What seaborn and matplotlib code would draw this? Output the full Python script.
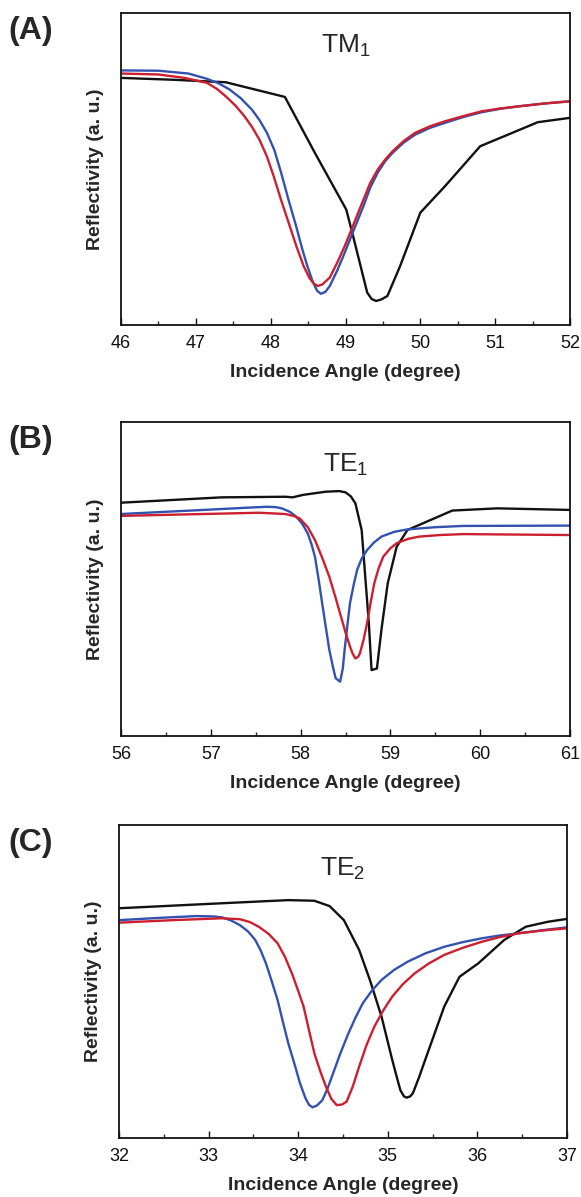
# Reflectivity curves (TM1, TE1, TE2) - three stacked panels

import numpy as np
import pandas as pd
import matplotlib
matplotlib.use("Agg")
import matplotlib.pyplot as plt
from matplotlib.ticker import MultipleLocator
import seaborn as sns

# ---- Panel A: TM1 ----
a_black_x = [46.0, 46.7, 47.4, 48.19, 48.59, 49.01, 49.09, 49.19, 49.29, 49.35, 49.41, 49.48, 49.56, 49.73, 50.0, 50.33, 50.8, 51.57, 52.0]
a_black_y = [0.792, 0.786, 0.778, 0.731, 0.552, 0.370, 0.296, 0.200, 0.104, 0.083, 0.077, 0.082, 0.093, 0.189, 0.360, 0.445, 0.573, 0.650, 0.664]
a_blue_x = [46.0, 46.5, 46.9, 47.15, 47.3, 47.45, 47.6, 47.75, 47.85, 47.95, 48.05, 48.14, 48.24, 48.34, 48.42, 48.49, 48.56, 48.62, 48.67, 48.73, 48.79, 48.89, 48.99, 49.12, 49.24, 49.33, 49.43, 49.53, 49.63, 49.78, 49.93, 50.13, 50.33, 50.58, 50.82, 51.07, 51.32, 51.66, 52.0]
a_blue_y = [0.816, 0.815, 0.806, 0.789, 0.775, 0.755, 0.727, 0.690, 0.657, 0.616, 0.560, 0.488, 0.400, 0.317, 0.245, 0.189, 0.140, 0.110, 0.100, 0.106, 0.125, 0.175, 0.232, 0.310, 0.381, 0.440, 0.488, 0.525, 0.552, 0.585, 0.610, 0.632, 0.648, 0.667, 0.682, 0.693, 0.701, 0.710, 0.717]
a_red_x = [46.0, 46.5, 46.85, 47.15, 47.28, 47.4, 47.53, 47.65, 47.75, 47.85, 47.95, 48.04, 48.14, 48.24, 48.34, 48.44, 48.52, 48.58, 48.63, 48.69, 48.79, 48.89, 48.99, 49.12, 49.24, 49.33, 49.43, 49.53, 49.63, 49.78, 49.93, 50.13, 50.33, 50.58, 50.82, 51.07, 51.32, 51.66, 52.0]
a_red_y = [0.806, 0.803, 0.792, 0.776, 0.757, 0.733, 0.703, 0.669, 0.635, 0.594, 0.540, 0.477, 0.400, 0.328, 0.255, 0.189, 0.150, 0.132, 0.125, 0.130, 0.152, 0.200, 0.253, 0.330, 0.402, 0.455, 0.498, 0.530, 0.557, 0.590, 0.616, 0.637, 0.653, 0.670, 0.685, 0.694, 0.701, 0.710, 0.717]

# ---- Panel B: TE1 ----
b_black_x = [56.0, 57.12, 57.83, 57.91, 58.03, 58.28, 58.43, 58.5, 58.56, 58.61, 58.68, 58.72, 58.76, 58.79, 58.85, 58.9, 58.97, 59.07, 59.19, 59.69, 60.19, 61.0]
b_black_y = [0.743, 0.760, 0.762, 0.760, 0.768, 0.778, 0.780, 0.776, 0.763, 0.741, 0.656, 0.507, 0.359, 0.210, 0.215, 0.338, 0.486, 0.603, 0.656, 0.718, 0.725, 0.720]
b_blue_x = [56.0, 56.92, 57.4, 57.62, 57.72, 57.79, 57.88, 57.95, 58.02, 58.08, 58.12, 58.16, 58.2, 58.24, 58.28, 58.32, 58.36, 58.39, 58.44, 58.47, 58.49, 58.52, 58.55, 58.59, 58.63, 58.68, 58.74, 58.82, 58.9, 59.04, 59.19, 59.5, 59.81, 61.0]
b_blue_y = [0.707, 0.720, 0.727, 0.730, 0.729, 0.725, 0.714, 0.699, 0.675, 0.645, 0.612, 0.571, 0.500, 0.423, 0.348, 0.274, 0.220, 0.184, 0.173, 0.215, 0.274, 0.350, 0.423, 0.480, 0.529, 0.565, 0.592, 0.617, 0.635, 0.650, 0.658, 0.665, 0.669, 0.670]
b_red_x = [56.0, 56.92, 57.54, 57.83, 57.92, 57.99, 58.08, 58.16, 58.24, 58.32, 58.39, 58.45, 58.5, 58.55, 58.58, 58.61, 58.64, 58.66, 58.7, 58.74, 58.78, 58.82, 58.87, 58.92, 59.0, 59.07, 59.2, 59.32, 59.55, 59.81, 61.0]
b_red_y = [0.701, 0.707, 0.711, 0.707, 0.701, 0.693, 0.665, 0.624, 0.568, 0.507, 0.440, 0.380, 0.330, 0.285, 0.262, 0.247, 0.252, 0.263, 0.305, 0.359, 0.425, 0.486, 0.535, 0.571, 0.598, 0.614, 0.628, 0.635, 0.640, 0.643, 0.640]

# ---- Panel C: TE2 ----
c_black_x = [32.0, 33.15, 33.89, 34.18, 34.35, 34.51, 34.68, 34.8, 34.93, 35.05, 35.1, 35.14, 35.18, 35.21, 35.25, 35.28, 35.35, 35.43, 35.63, 35.8, 36.01, 36.3, 36.54, 36.79, 37.0]
c_black_y = [0.734, 0.750, 0.760, 0.758, 0.741, 0.696, 0.601, 0.505, 0.388, 0.249, 0.195, 0.153, 0.133, 0.129, 0.133, 0.143, 0.195, 0.260, 0.420, 0.515, 0.558, 0.633, 0.675, 0.691, 0.700]
c_blue_x = [32.0, 32.5, 32.86, 33.05, 33.15, 33.25, 33.35, 33.44, 33.52, 33.58, 33.64, 33.7, 33.77, 33.83, 33.89, 33.96, 34.02, 34.08, 34.12, 34.16, 34.21, 34.27, 34.33, 34.39, 34.47, 34.56, 34.64, 34.72, 34.82, 34.93, 35.07, 35.22, 35.42, 35.63, 35.84, 36.05, 36.25, 36.46, 36.73, 37.0]
c_blue_y = [0.696, 0.704, 0.709, 0.708, 0.705, 0.695, 0.680, 0.660, 0.633, 0.600, 0.558, 0.505, 0.441, 0.370, 0.302, 0.235, 0.175, 0.128, 0.106, 0.098, 0.104, 0.121, 0.160, 0.207, 0.270, 0.334, 0.385, 0.430, 0.470, 0.505, 0.537, 0.563, 0.590, 0.611, 0.626, 0.638, 0.647, 0.654, 0.664, 0.673]
c_red_x = [32.0, 32.6, 33.15, 33.35, 33.46, 33.56, 33.67, 33.77, 33.85, 33.93, 34.0, 34.06, 34.12, 34.18, 34.25, 34.31, 34.37, 34.43, 34.49, 34.54, 34.61, 34.68, 34.76, 34.85, 34.95, 35.05, 35.17, 35.3, 35.46, 35.63, 35.84, 36.05, 36.25, 36.46, 36.73, 37.0]
c_red_y = [0.688, 0.696, 0.702, 0.699, 0.690, 0.675, 0.652, 0.622, 0.580, 0.526, 0.470, 0.420, 0.345, 0.271, 0.210, 0.164, 0.125, 0.105, 0.107, 0.116, 0.165, 0.228, 0.295, 0.356, 0.408, 0.452, 0.492, 0.526, 0.558, 0.585, 0.608, 0.627, 0.642, 0.654, 0.663, 0.670]

panel_tags = ["(A)", "(B)", "(C)"]
mode_labels = [r"TM$_\mathregular{1}$", r"TE$_\mathregular{1}$", r"TE$_\mathregular{2}$"]
x_ranges = [(46, 52), (56, 61), (32, 37)]

sns.set_style("ticks")
plt.rcParams["font.family"] = ["Liberation Sans", "DejaVu Sans"]
plt.rcParams["mathtext.fontset"] = "custom"
plt.rcParams["mathtext.rm"] = "Liberation Sans"

farben = {"black": "#111111", "blue": "#3352b0", "red": "#cc1f2f"}

panels = [
    [(a_black_x, a_black_y, "black"), (a_blue_x, a_blue_y, "blue"), (a_red_x, a_red_y, "red")],
    [(b_black_x, b_black_y, "black"), (b_blue_x, b_blue_y, "blue"), (b_red_x, b_red_y, "red")],
    [(c_black_x, c_black_y, "black"), (c_blue_x, c_blue_y, "blue"), (c_red_x, c_red_y, "red")],
]

# Achsenpositionen in Pixeln (links, oben, rechts, unten)
W, H = 581, 1197
boxes = [(121, 13, 570, 325), (121, 422, 570, 736), (119, 825, 567, 1138)]
mode_y = [0.895, 0.865, 0.86]

fig = plt.figure(figsize=(W / 100, H / 100), dpi=100)

for i, (l, t, r, b) in enumerate(boxes):
    ax = fig.add_axes([l / W, 1 - b / H, (r - l) / W, (b - t) / H])
    for xs, ys, name in panels[i]:
        df = pd.DataFrame({"x": xs, "y": ys})
        sns.lineplot(data=df, x="x", y="y", ax=ax, color=farben[name],
                     linewidth=1.7, estimator=None, sort=False)
    ax.set_xlim(*x_ranges[i])
    ax.set_ylim(0, 1)
    ax.xaxis.set_major_locator(MultipleLocator(1))
    ax.xaxis.set_minor_locator(MultipleLocator(0.5))
    ax.tick_params(axis="x", which="major", direction="in", length=5, width=1.0,
                   labelsize=13, pad=7, colors="#111111")
    ax.tick_params(axis="x", which="minor", direction="in", length=3, width=1.0)
    ax.set_yticks([])
    for s in ax.spines.values():
        s.set_visible(True)
        s.set_linewidth(1.3)
        s.set_color("#111111")
    ax.set_xlabel("Incidence Angle (degree)", fontsize=14, fontweight="bold", labelpad=9)
    ax.set_ylabel("Reflectivity (a. u.)", fontsize=14, fontweight="bold", labelpad=12)
    ax.text(0.5, mode_y[i], mode_labels[i], transform=ax.transAxes,
            ha="center", va="center", fontsize=19)
    fig.text(8 / W, 1 - (t + 18) / H, panel_tags[i], ha="left", va="center",
             fontsize=23, fontweight="bold")

fig.savefig("out.png", dpi=100)
